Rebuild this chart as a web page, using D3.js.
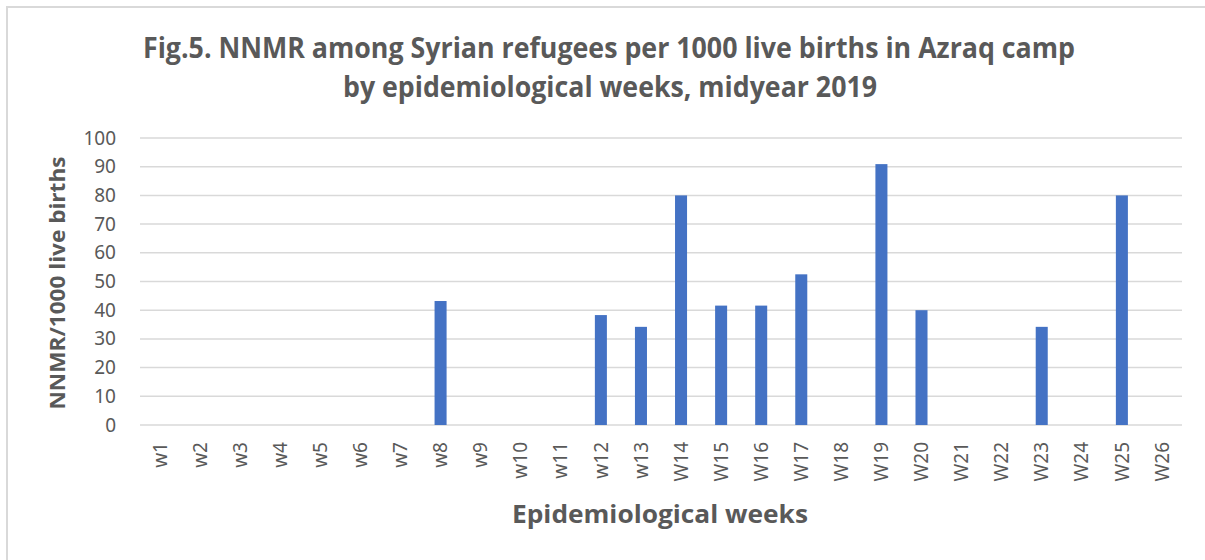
<!DOCTYPE html>
<html>
<head>
<meta charset="utf-8">
<script src="https://cdn.jsdelivr.net/npm/d3@7"></script>
<style>
  body { margin: 0; background: #fff; }
  text { fill: #595959; }
</style>
</head>
<body>
<div id="chart"></div>
<script>
// weeks and NNMR values (per 1000 live births)
var weeks = ["w1","w2","w3","w4","w5","w6","w7","w8","w9","w10","w11","w12","w13",
  "W14","W15","W16","W17","W18","W19","W20","W21","W22","W23","W24","W25","W26"];
var nnmr = [0,0,0,0,0,0,0,43.2,0,0,0,38.3,34.2,80,41.6,41.6,52.5,0,90.9,40,0,0,34.2,0,80,0];
var yTicks = [0,10,20,30,40,50,60,70,80,90,100];

var W = 1205, H = 560;
var margin = {top: 138, right: 23, bottom: 135, left: 140},
  width = W - margin.left - margin.right,
  height = H - margin.top - margin.bottom;

var root = d3.select("#chart").append("svg")
  .attr("width", W)
  .attr("height", H);

// chart border (only top/left visible in the crop)
root.append("rect")
  .attr("x", 7).attr("y", 7)
  .attr("width", W + 20).attr("height", H + 20)
  .attr("fill", "none")
  .attr("stroke", "#d9d9d9")
  .attr("stroke-width", 2);

// title
var titleFont = "'Open Sans', 'DejaVu Sans', sans-serif";
root.append("text")
  .attr("x", 609).attr("y", 58)
  .attr("text-anchor", "middle")
  .attr("textLength", 932).attr("lengthAdjust", "spacingAndGlyphs")
  .style("font-family", titleFont).style("font-weight", "bold").style("font-size", "28px")
  .text("Fig.5. NNMR among Syrian refugees per 1000 live births in Azraq camp");
root.append("text")
  .attr("x", 610).attr("y", 97)
  .attr("text-anchor", "middle")
  .attr("textLength", 534).attr("lengthAdjust", "spacingAndGlyphs")
  .style("font-family", titleFont).style("font-weight", "bold").style("font-size", "28px")
  .text("by epidemiological weeks, midyear 2019");

var svg = root.append("g")
  .attr("transform", "translate(" + margin.left + "," + margin.top + ")");

var x = d3.scaleBand()
  .domain(weeks)
  .range([0, width])
  .paddingInner(0.7)
  .paddingOuter(0.35);

var y = d3.scaleLinear()
  .domain([0, 100])
  .range([height, 0]);

// gridlines
svg.append("g")
  .selectAll("line")
  .data(yTicks)
  .enter().append("line")
    .attr("x1", 0).attr("x2", width)
    .attr("y1", function(d) { return y(d); })
    .attr("y2", function(d) { return y(d); })
    .attr("stroke", "#d9d9d9")
    .attr("stroke-width", 1.5);

// bars
svg.selectAll("myBar")
  .data(weeks)
  .enter().append("rect")
    .attr("x", function(d) { return x(d); })
    .attr("width", x.bandwidth())
    .attr("y", function(d, i) { return y(nnmr[i]); })
    .attr("height", function(d, i) { return height - y(nnmr[i]); })
    .attr("fill", "#4472c4");

var tickFont = "'Noto Sans', 'Open Sans', sans-serif";

// y axis
var yAxis = svg.append("g")
  .call(d3.axisLeft(y).tickValues(yTicks).tickSize(0).tickPadding(24));
yAxis.select(".domain").remove();
yAxis.selectAll("text")
  .style("font-family", tickFont).style("font-size", "19px")
  .attr("fill", "#595959");

// x axis
var xAxis = svg.append("g")
  .attr("transform", "translate(0," + height + ")")
  .call(d3.axisBottom(x).tickSize(0));
xAxis.select(".domain").remove();
xAxis.selectAll("text")
  .style("font-family", tickFont).style("font-size", "19px")
  .attr("fill", "#595959")
  .attr("text-anchor", "end")
  .attr("transform", "rotate(-90)")
  .attr("x", -17)
  .attr("y", 0)
  .attr("dy", "0.35em");

// axis titles
root.append("text")
  .attr("transform", "translate(65,283) rotate(-90)")
  .attr("text-anchor", "middle")
  .attr("textLength", 253).attr("lengthAdjust", "spacingAndGlyphs")
  .style("font-family", titleFont).style("font-weight", "bold").style("font-size", "21px")
  .text("NNMR/1000 live births");

root.append("text")
  .attr("x", 660).attr("y", 523)
  .attr("text-anchor", "middle")
  .attr("textLength", 296).attr("lengthAdjust", "spacingAndGlyphs")
  .style("font-family", titleFont).style("font-weight", "bold").style("font-size", "25px")
  .text("Epidemiological weeks");
</script>
</body>
</html>
